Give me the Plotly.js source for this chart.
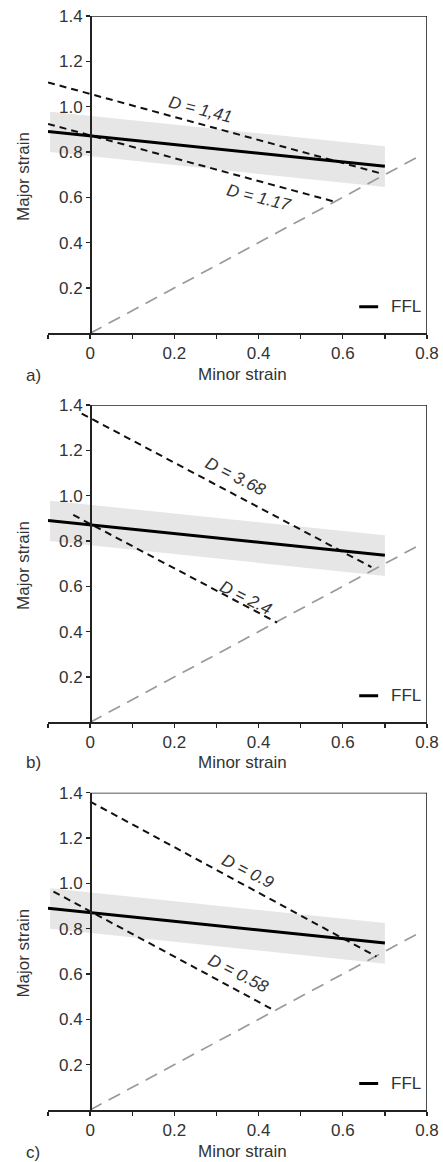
<!DOCTYPE html>
<html>
<head>
<meta charset="utf-8">
<script src="https://cdn.plot.ly/plotly-3.0.1.min.js"></script>
<style>
  html, body { margin: 0; padding: 0; background: #fff; }
  #chart { width: 443px; height: 1162px; }
</style>
</head>
<body>
<div id="chart"></div>
<script>
// ---------- data ----------
const panelLetters = ["a)", "b)", "c)"];
const xTickVals = [0, 0.2, 0.4, 0.6, 0.8];
const yTickVals = [0.2, 0.4, 0.6, 0.8, 1.0, 1.2, 1.4];

// forming limit line (same in all panels)
const fflX = [-0.1, 0.7];
const fflY = [0.89, 0.737];
// scatter band around FFL
const bandX = [-0.095, 0.7];
const bandUpper = [0.978, 0.825];
const bandLower = [0.80, 0.645];
// plane strain / equibiaxial reference line
const refX = [0, 0.78];
const refY = [0, 0.78];

// panel a
const aHighX = [-0.1, 0.695];
const aHighY = [1.107, 0.703];
const aLowX = [-0.1, 0.58];
const aLowY = [0.924, 0.581];
const aLabels = ["D = 1,41", "D = 1.17"];
// panel b
const bHighX = [-0.02, 0.668];
const bHighY = [1.362, 0.685];
const bLowX = [-0.04, 0.444];
const bLowY = [0.915, 0.44];
const bLabels = ["D = 3.68", "D = 2.4"];
// panel c
const cHighX = [0, 0.68];
const cHighY = [1.361, 0.677];
const cLowX = [-0.087, 0.43];
const cLowY = [0.964, 0.447];
const cLabels = ["D = 0.9", "D = 0.58"];

// ---------- layout helpers ----------
const W = 443, H = 1162;
const FONT = "Liberation Sans, Arial, Helvetica, sans-serif";
const FS = 17;
const TXT = "#333";
const AX = "#222";
const xMin = -0.1, xMax = 0.8, yMin = 0, yMax = 1.4;
const xDom = [48 / W, 427 / W];
const yAxisPos = xDom[0] + (0 - xMin) / (xMax - xMin) * (xDom[1] - xDom[0]);
// pixel rows (top of 1.4, row of 0) for each panel
const panelRows = [[16, 333.3], [405, 722.3], [792.7, 1110]];
const titleRows = [374, 762, 1151];
const letterRows = [375, 763, 1152];

const panels = [
  { hx: aHighX, hy: aHighY, lx: aLowX, ly: aLowY, labels: aLabels,
    lab: [[0.261, 0.986, 14], [0.399, 0.597, 14]] },
  { hx: bHighX, hy: bHighY, lx: bLowX, ly: bLowY, labels: bLabels,
    lab: [[0.345, 1.084, 27], [0.368, 0.549, 27]] },
  { hx: cHighX, hy: cHighY, lx: cLowX, ly: cLowY, labels: cLabels,
    lab: [[0.375, 1.052, 27], [0.352, 0.604, 27]] }
];

const traces = [];
const layout = {
  width: W, height: H,
  margin: { l: 0, r: 0, t: 0, b: 0 },
  paper_bgcolor: "#fff", plot_bgcolor: "#fff",
  showlegend: false,
  font: { family: FONT, size: FS, color: TXT },
  shapes: [], annotations: []
};

panels.forEach((p, i) => {
  const n = i === 0 ? "" : String(i + 1);
  const xa = "x" + n, ya = "y" + n;
  const [top, bot] = panelRows[i];
  const yDom = [(H - bot) / H, (H - top) / H];

  layout["xaxis" + n] = {
    domain: xDom, anchor: ya, range: [xMin, xMax],
    showgrid: false, zeroline: false,
    showline: true, linecolor: AX, linewidth: 1.6,
    ticks: "outside", ticklen: 4, tickwidth: 1.4, tickcolor: AX,
    tickvals: xTickVals, ticktext: xTickVals.map(v => v === 0 ? "0" : String(v)),
    minor: { tickvals: [-0.1, 0.1, 0.3, 0.5, 0.7], ticks: "outside", ticklen: 4, tickwidth: 1.4, tickcolor: AX },
    ticklabelstandoff: 0,
    tickfont: { family: FONT, size: FS, color: TXT },
    fixedrange: true
  };
  layout["yaxis" + n] = {
    domain: yDom, anchor: "free", position: yAxisPos, range: [yMin, yMax],
    showgrid: false, zeroline: false,
    showline: true, linecolor: AX, linewidth: 1.6,
    ticks: "outside", ticklen: 4, tickwidth: 1.4, tickcolor: AX,
    tickvals: yTickVals, tickformat: ".1f",
    tickfont: { family: FONT, size: FS, color: TXT },
    fixedrange: true
  };

  // band
  traces.push({
    x: bandX.concat(bandX.slice().reverse()),
    y: bandUpper.concat(bandLower.slice().reverse()),
    xaxis: xa, yaxis: ya, type: "scatter", mode: "lines",
    fill: "toself", fillcolor: "#e6e6e6", line: { width: 0, color: "rgba(0,0,0,0)" },
    hoverinfo: "skip"
  });
  // reference line
  traces.push({
    x: refX, y: refY, xaxis: xa, yaxis: ya, type: "scatter", mode: "lines",
    line: { color: "#9a9a9a", width: 1.7, dash: "13px,8px" }
  });
  // D lines
  traces.push({
    x: p.hx, y: p.hy, xaxis: xa, yaxis: ya, type: "scatter", mode: "lines",
    line: { color: "#111", width: 2, dash: "7px,5px" }
  });
  traces.push({
    x: p.lx, y: p.ly, xaxis: xa, yaxis: ya, type: "scatter", mode: "lines",
    line: { color: "#111", width: 2, dash: "7px,5px" }
  });
  // FFL
  traces.push({
    name: "FFL", x: fflX, y: fflY, xaxis: xa, yaxis: ya, type: "scatter", mode: "lines",
    line: { color: "#000", width: 3 }
  });

  // frame top/right
  layout.shapes.push({ type: "line", xref: xa, yref: ya, x0: 0, x1: xMax, y0: yMax, y1: yMax,
    line: { color: AX, width: 1.6 }, layer: "above" });
  layout.shapes.push({ type: "line", xref: xa, yref: ya, x0: xMax, x1: xMax, y0: yMin, y1: yMax,
    line: { color: AX, width: 1.6 }, layer: "above" });
  // legend sample
  layout.shapes.push({ type: "line", xref: xa, yref: ya, x0: 0.639, x1: 0.684, y0: 0.117, y1: 0.117,
    line: { color: "#000", width: 3 }, layer: "above" });
  layout.annotations.push({ xref: xa, yref: ya, x: 0.709, y: 0.117, xanchor: "left", yanchor: "middle",
    text: "FFL", showarrow: false, font: { family: FONT, size: FS, color: TXT } });

  // D labels
  p.labels.forEach((t, k) => {
    const [lx, ly, ang] = p.lab[k];
    layout.annotations.push({ xref: xa, yref: ya, x: lx, y: ly, text: t, textangle: ang,
      showarrow: false, xanchor: "center", yanchor: "middle",
      font: { family: FONT, size: FS, color: TXT, style: "italic" } });
  });

  // axis titles
  layout.annotations.push({ xref: "paper", yref: ya, x: 24 / W, y: 0.69, text: "Major strain",
    textangle: -90, showarrow: false, xanchor: "center", yanchor: "middle",
    font: { family: FONT, size: FS, color: TXT } });
  layout.annotations.push({ xref: xa, yref: "paper", x: 0.361, y: (H - titleRows[i]) / H, text: "Minor strain",
    showarrow: false, xanchor: "center", yanchor: "middle",
    font: { family: FONT, size: FS, color: TXT } });
  layout.annotations.push({ xref: "paper", yref: "paper", x: 33 / W, y: (H - letterRows[i]) / H, text: panelLetters[i],
    showarrow: false, xanchor: "center", yanchor: "middle",
    font: { family: FONT, size: FS, color: TXT } });
});

Plotly.newPlot("chart", traces, layout, { staticPlot: true, displayModeBar: false });
</script>
</body>
</html>
